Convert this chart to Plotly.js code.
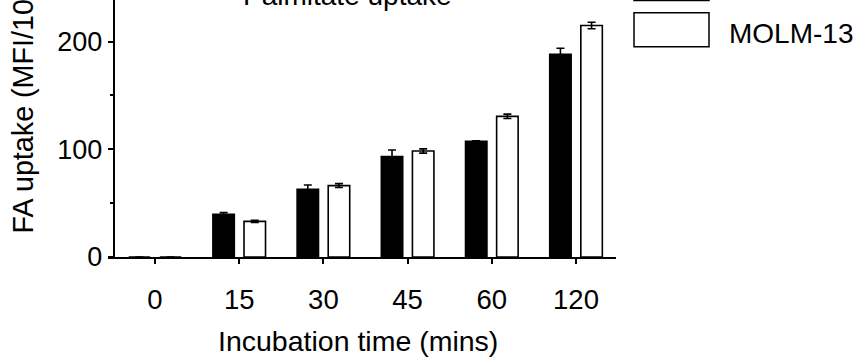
<!DOCTYPE html>
<html><head><meta charset="utf-8">
<script src="https://cdn.plot.ly/plotly-3.0.1.min.js"></script>
<style>html,body{margin:0;padding:0;background:#fff;}#chart{width:859px;height:361px;}</style>
</head><body><div id="chart"></div>
<script>
// Data
const categories = ['0', '15', '30', '45', '60', '120'];
const seriesNames = ['MV4-11', 'MOLM-13'];
const vals1 = [0, 39.6, 62.9, 93.2, 107.4, 188.2];
const err1 = [0, 1.6, 4.0, 6.2, 0.5, 5.6];
const vals2 = [0, 33.1, 66.3, 98.4, 130.6, 214.9];
const err2 = [0, 1.0, 1.8, 2.0, 2.0, 3.0];
const titleText = 'Palmitate uptake';
const xTitle = 'Incubation time (mins)';
const yTitle = 'FA uptake (MFI/10<sup>3</sup>)';

const W = 859, H = 361;
const L = 108, R = 243, T = 0, B = 104;
const pw = W - L - R, ph = H - T - B;
const xp = px => (px - L) / pw;
const yp = py => (H - B - py) / ph;
const FONT = 'Arial, "Liberation Sans", sans-serif';

const traces = [
  {type: 'bar', name: seriesNames[0], x: categories, y: vals1,
   marker: {color: '#000', line: {color: '#000', width: 1.5}},
   error_y: {type: 'data', array: err1, visible: true, color: '#000', thickness: 1.6, width: 4}},
  {type: 'bar', name: seriesNames[1], x: categories, y: vals2,
   marker: {color: '#fff', line: {color: '#000', width: 1.6}},
   error_y: {type: 'data', array: err2, visible: true, color: '#000', thickness: 1.6, width: 4}}
];

const layout = {
  width: W, height: H,
  margin: {l: L, r: R, t: T, b: B, pad: 0},
  paper_bgcolor: '#fff', plot_bgcolor: '#fff',
  showlegend: false,
  barmode: 'group', bargap: 0.26, bargroupgap: 0.31,
  font: {family: FONT, color: '#000', size: 27},
  xaxis: {
    type: 'category', range: [-0.558, 5.475],
    showline: true, linecolor: '#000', linewidth: 2,
    ticks: 'outside', ticklen: 5, tickwidth: 2, tickcolor: '#000',
    showgrid: false, zeroline: false,
    tickfont: {family: FONT, size: 27.5, color: '#000'},
    ticklabelstandoff: 12
  },
  yaxis: {
    range: [0, 238.6], anchor: 'free', position: 0.0112,
    showline: true, linecolor: '#000', linewidth: 2,
    ticks: 'outside', ticklen: 5, tickwidth: 2, tickcolor: '#000',
    tickmode: 'linear', tick0: 0, dtick: 100,
    minor: {dtick: 50, ticks: 'outside', ticklen: 3, tickwidth: 2, tickcolor: '#000', showgrid: false},
    showgrid: false, zeroline: false,
    tickfont: {family: FONT, size: 27, color: '#000'}
  },
  shapes: [
    {type: 'rect', xref: 'paper', yref: 'paper', x0: xp(634), x1: xp(709), y0: yp(-34), y1: yp(0.5),
     fillcolor: '#000', line: {color: '#000', width: 1.5}},
    {type: 'rect', xref: 'paper', yref: 'paper', x0: xp(634), x1: xp(709), y0: yp(46.7), y1: yp(12.7),
     fillcolor: '#fff', line: {color: '#000', width: 1.5}}
  ],
  annotations: [
    {text: titleText, xref: 'paper', yref: 'paper', x: xp(347), y: yp(-5), xanchor: 'center', yanchor: 'middle',
     showarrow: false, font: {family: FONT, size: 28, color: '#000'}},
    {text: xTitle, xref: 'paper', yref: 'paper', x: xp(358), y: yp(341), xanchor: 'center', yanchor: 'middle',
     showarrow: false, font: {family: FONT, size: 28.5, color: '#000'}},
    {text: yTitle, xref: 'paper', yref: 'paper', x: xp(20), y: yp(236), xanchor: 'center', yanchor: 'bottom',
     textangle: -90, showarrow: false, font: {family: FONT, size: 28.7, color: '#000'}},
    {text: seriesNames[0], xref: 'paper', yref: 'paper', x: xp(729), y: yp(-17), xanchor: 'left', yanchor: 'middle',
     showarrow: false, font: {family: FONT, size: 28, color: '#000'}},
    {text: seriesNames[1], xref: 'paper', yref: 'paper', x: xp(727), y: yp(33), xanchor: 'left', yanchor: 'middle',
     showarrow: false, font: {family: FONT, size: 28, color: '#000'}}
  ]
};

Plotly.newPlot('chart', traces, layout, {displayModeBar: false, staticPlot: true});
</script></body></html>
